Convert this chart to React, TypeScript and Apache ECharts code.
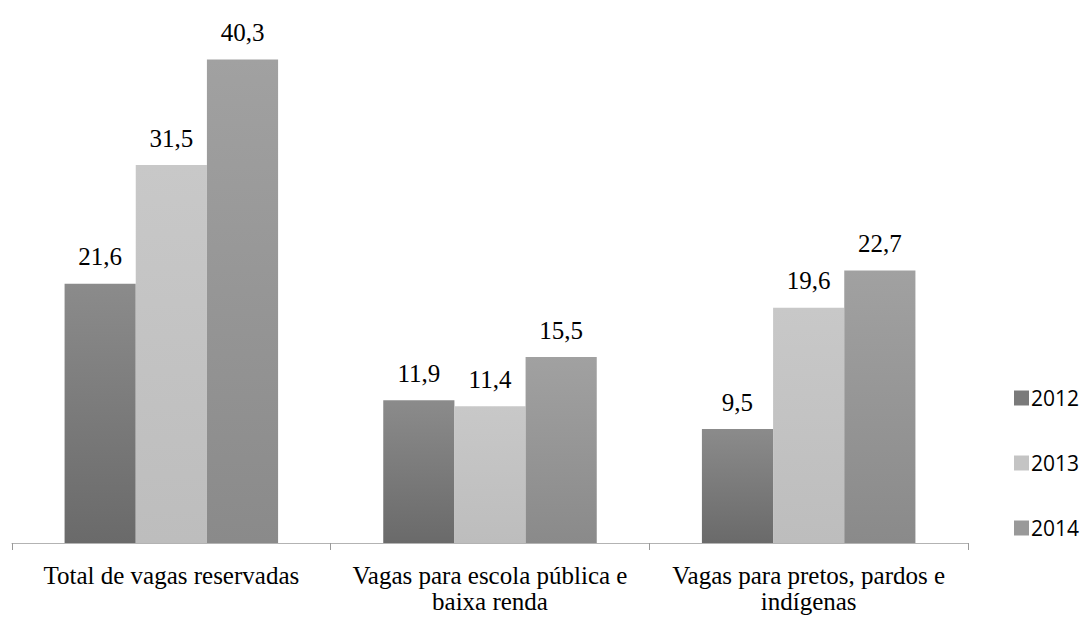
import React, { useEffect, useRef } from "react";
import * as echarts from "echarts";

const categories = [
  "Total de vagas reservadas",
  "Vagas para escola pública e\nbaixa renda",
  "Vagas para pretos, pardos e\nindígenas",
];
const years = ["2012", "2013", "2014"];
const values2012 = [21.6, 11.9, 9.5];
const values2013 = [31.5, 11.4, 19.6];
const values2014 = [40.3, 15.5, 22.7];

const topColors = ["#8b8b8b", "#c8c8c8", "#a1a1a1"];
const bottomColors = ["#6a6a6a", "#bdbdbd", "#8a8a8a"];
const legendColors = ["#7a7a7a", "#c4c4c4", "#999999"];

const SERIF =
  "Liberation Serif, Tinos, Noto Serif, Nimbus Roman, Nimbus Roman No9 L, FreeSerif, DejaVu Serif, Times, serif";

export default function App() {
  const ref = useRef<HTMLDivElement>(null);
  useEffect(() => {
    if (!ref.current) return;
    const chart = echarts.init(ref.current, undefined, { renderer: "svg" });
    const seriesData = [values2012, values2013, values2014];
    chart.setOption({
      animation: false,
      backgroundColor: "#ffffff",
      grid: { left: 12, right: 118, top: 3, bottom: 77 },
      legend: {
        orient: "vertical",
        left: 1009,
        top: 382,
        itemWidth: 15,
        itemHeight: 15,
        itemGap: 43,
        icon: "rect",
        textStyle: {
          fontFamily: "'Open Sans', Lato, sans-serif",
          fontSize: 21,
          lineHeight: 22,
          color: "#000000",
          padding: [0, 0, 0, -3],
        },
        data: years.map((y, i) => ({ name: y, itemStyle: { color: legendColors[i] } })),
      },
      xAxis: {
        type: "category",
        data: categories,
        axisLine: { lineStyle: { color: "#b3b3b3", width: 1 } },
        axisTick: { show: true, length: 7, lineStyle: { color: "#999999" } },
        axisLabel: {
          fontFamily: SERIF,
          fontSize: 25,
          lineHeight: 26,
          color: "#000000",
          margin: 19,
          interval: 0,
        },
      },
      yAxis: {
        type: "value",
        min: 0,
        max: 45,
        show: false,
        splitLine: { show: false },
      },
      series: years.map((y, i) => ({
        name: y,
        type: "bar",
        data: seriesData[i],
        barGap: "0%",
        barCategoryGap: "33%",
        itemStyle: {
          color: new echarts.graphic.LinearGradient(0, 0, 0, 1, [
            { offset: 0, color: topColors[i] },
            { offset: 1, color: bottomColors[i] },
          ]),
        },
        label: {
          show: true,
          position: "top",
          distance: 14,
          fontFamily: SERIF,
          fontSize: 25,
          lineHeight: 26,
          color: "#000000",
          formatter: (p: any) => String(p.value).replace(".", ","),
        },
      })),
    });
    return () => chart.dispose();
  }, []);
  return (
    <div
      ref={ref}
      style={{ position: "fixed", left: 0, top: 0, width: 1086, height: 620 }}
    />
  );
}
